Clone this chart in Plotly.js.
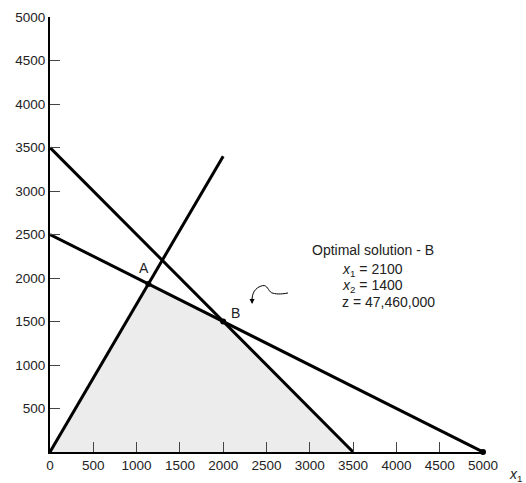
<!DOCTYPE html>
<html>
<head>
<meta charset="utf-8">
<script src="https://cdn.plot.ly/plotly-3.0.1.min.js"></script>
<style>html,body{margin:0;padding:0;background:#fff;}#chart{width:526px;height:483px;}</style>
</head>
<body>
<div id="chart"></div>
<script>
// Constraint lines (endpoints)
const line1X = [0, 3500], line1Y = [3500, 0];
const line2X = [0, 5000], line2Y = [2500, 0];
const line3X = [0, 2000], line3Y = [0, 3400];
// Feasible region corners
const regionX = [0, 1136, 2000, 3500, 0];
const regionY = [0, 1932, 1500, 0, 0];
// Marked points
const pointX = [1136, 2000, 5000];
const pointY = [1932, 1500, 0];
const pointLabels = ['A', 'B', ''];
// Ticks
const xTicks = [0, 500, 1000, 1500, 2000, 2500, 3000, 3500, 4000, 4500, 5000];
const yTicks = [500, 1000, 1500, 2000, 2500, 3000, 3500, 4000, 4500, 5000];
// Solution text
const solTitle = 'Optimal solution - B';
const solLines = ['<i>x</i><sub>1</sub> = 2100', '<i>x</i><sub>2</sub> = 1400', 'z = 47,460,000'];

const lineStyle = {color: '#000', width: 3};
const traces = [
  {x: regionX, y: regionY, mode: 'lines', fill: 'toself', fillcolor: '#ececec', line: {width: 0}, hoverinfo: 'skip'},
  {x: line1X, y: line1Y, mode: 'lines', line: lineStyle},
  {x: line2X, y: line2Y, mode: 'lines', line: lineStyle},
  {x: line3X, y: line3Y, mode: 'lines', line: lineStyle},
  {x: pointX, y: pointY, mode: 'markers', marker: {color: '#000', size: 6}, cliponaxis: false}
];

const tickFont = {family: 'Liberation Sans, Arial, sans-serif', size: 13.5, color: '#222'};
const font = {family: 'Liberation Sans, Arial, sans-serif', size: 14, color: '#222'};
const annotations = [
  {x: pointX[0], y: pointY[0], text: pointLabels[0], showarrow: false, xshift: -4, yshift: 16, font: font},
  {x: pointX[1], y: pointY[1], text: pointLabels[1], showarrow: false, xshift: 12, yshift: 9, font: font},
  {x: 3002, y: 2322, text: solTitle, showarrow: false, xanchor: 'left', font: font},
  {x: 3349, y: 2092, text: solLines[0], showarrow: false, xanchor: 'left', font: font},
  {x: 3349, y: 1908, text: solLines[1], showarrow: false, xanchor: 'left', font: font},
  {x: 3349, y: 1724, text: solLines[2], showarrow: false, xanchor: 'left', font: font},
  {x: 2333, y: 1701, ax: 0, ay: -7, text: '', showarrow: true, arrowhead: 2, arrowsize: 1, arrowwidth: 1, arrowcolor: '#000'},
  {xref: 'paper', yref: 'paper', x: 1.078, y: -0.057, xshift: 7, yshift: -9, text: '<i>x</i><sub>1</sub>', showarrow: false, font: font}
];

const axisBase = {range: [0, 5000], ticks: 'inside', ticklen: 10, tickwidth: 1, tickcolor: '#444',
  showline: true, linecolor: '#000', linewidth: 2, showgrid: false, zeroline: false, fixedrange: true, tickfont: tickFont};

const layout = {
  width: 526, height: 483,
  margin: {l: 50, r: 43, t: 17, b: 31},
  paper_bgcolor: '#fff', plot_bgcolor: '#fff',
  showlegend: false,
  font: font,
  xaxis: Object.assign({}, axisBase, {tickvals: xTicks, ticktext: xTicks.map(String)}),
  yaxis: Object.assign({}, axisBase, {tickvals: yTicks, ticktext: yTicks.map(String)}),
  shapes: [
    {type: 'path', path: 'M2748,1828 C2660,1810 2600,1815 2560,1830 C2520,1850 2510,1925 2455,1912 C2400,1900 2340,1860 2333,1760',
     line: {color: '#000', width: 1}}
  ],
  annotations: annotations
};

Plotly.newPlot('chart', traces, layout, {displayModeBar: false, staticPlot: true});
</script>
</body>
</html>
